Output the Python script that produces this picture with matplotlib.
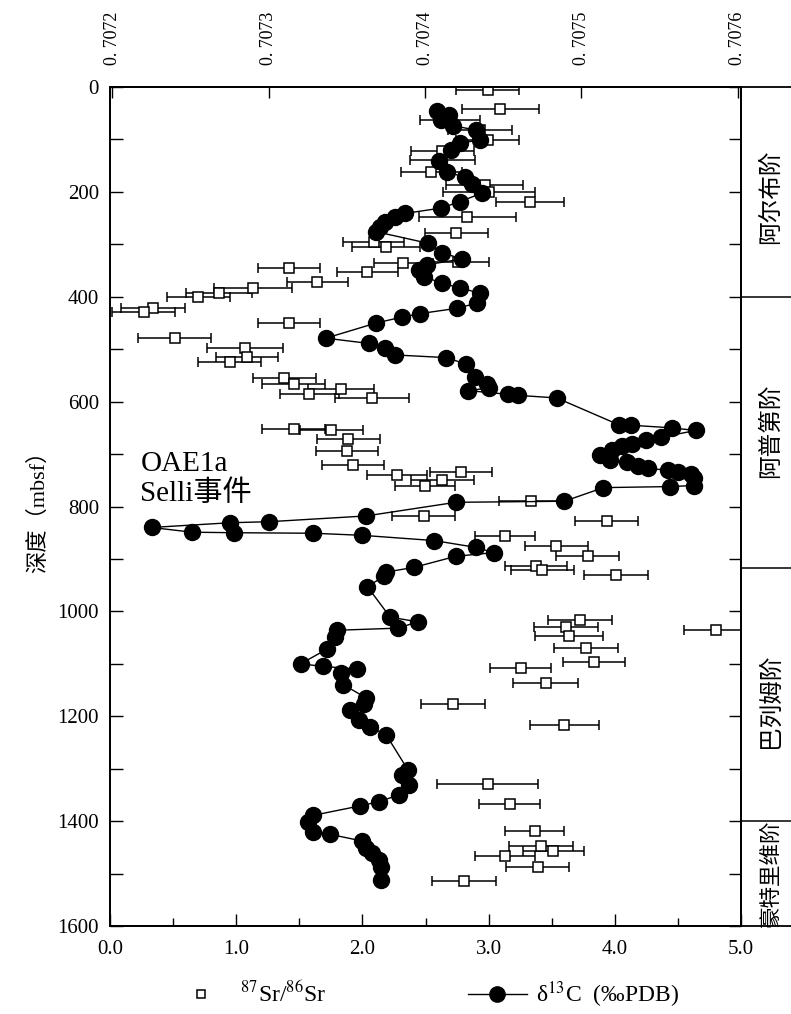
import numpy as np
import matplotlib
matplotlib.use('Agg')
import matplotlib.pyplot as plt
from matplotlib.ticker import MultipleLocator, FuncFormatter
from matplotlib.lines import Line2D

plt.rcParams['font.family'] = ['Liberation Serif', 'Noto Sans CJK SC', 'DejaVu Sans']
plt.rcParams['mathtext.fontset'] = 'stix'

# d13C (%o PDB) vs depth (mbsf)
c_depth = [46, 53, 63, 74, 82, 101, 107, 120, 141, 162, 172, 185, 202, 219, 231, 241, 248, 257,
           267, 276, 298, 316, 328, 339, 349, 362, 374, 383, 393, 412, 422, 432, 439, 450, 479,
           489, 498, 511, 516, 528, 553, 566, 574, 579, 586, 588, 593, 644, 645, 650, 655, 668,
           673, 680, 685, 692, 702, 712, 716, 722, 727, 731, 735, 738, 746, 760, 762, 764, 790,
           792, 818, 829, 831, 840, 849, 850, 851, 855, 865, 878, 888, 895, 916, 925, 933, 953,
           1011, 1020, 1032, 1036, 1048, 1072, 1100, 1105, 1110, 1117, 1140, 1165, 1177, 1188,
           1207, 1220, 1236, 1302, 1312, 1331, 1350, 1363, 1371, 1389, 1402, 1420, 1425, 1438,
           1451, 1461, 1474, 1487, 1512]
c_val = [2.59, 2.69, 2.62, 2.72, 2.90, 2.93, 2.77, 2.70, 2.61, 2.67, 2.81, 2.87, 2.95, 2.77, 2.62,
         2.34, 2.26, 2.18, 2.14, 2.11, 2.52, 2.63, 2.79, 2.51, 2.45, 2.49, 2.63, 2.77, 2.93, 2.91,
         2.75, 2.46, 2.31, 2.11, 1.71, 2.05, 2.18, 2.26, 2.66, 2.82, 2.89, 2.99, 3.00, 2.84, 3.15,
         3.23, 3.54, 4.03, 4.13, 4.45, 4.64, 4.37, 4.25, 4.14, 4.06, 3.98, 3.88, 3.96, 4.10, 4.18,
         4.26, 4.42, 4.50, 4.60, 4.63, 4.63, 4.44, 3.91, 3.60, 2.74, 2.03, 1.26, 0.95, 0.33, 0.65,
         0.98, 1.61, 2.00, 2.57, 2.90, 3.04, 2.74, 2.41, 2.19, 2.17, 2.04, 2.22, 2.44, 2.28, 1.80,
         1.78, 1.72, 1.51, 1.69, 1.96, 1.83, 1.85, 2.03, 2.01, 1.90, 1.97, 2.06, 2.19, 2.36, 2.31,
         2.37, 2.29, 2.13, 1.98, 1.61, 1.57, 1.61, 1.74, 2.00, 2.03, 2.08, 2.13, 2.15, 2.15]

# 87Sr/86Sr with 2-sigma error
sr_depth = [5, 42, 63, 82, 101, 122, 140, 162, 187, 200, 219, 248, 278, 296, 305, 334, 336, 345,
            353, 372, 383, 392, 401, 421, 430, 450, 479, 498, 515, 524, 555, 566, 576, 585, 593,
            652, 655, 672, 694, 721, 734, 740, 749, 761, 789, 818, 827, 856, 875, 894, 913, 921,
            930, 1016, 1029, 1035, 1047, 1069, 1097, 1108, 1137, 1177, 1217, 1329, 1368, 1419,
            1447, 1457, 1466, 1487, 1514]
sr_val = [0.707440, 0.707448, 0.707416, 0.707435, 0.707440, 0.707411, 0.707411, 0.707404,
          0.707438, 0.707441, 0.707467, 0.707427, 0.707420, 0.707367, 0.707375, 0.707421,
          0.707386, 0.707313, 0.707363, 0.707331, 0.707290, 0.707268, 0.707255, 0.707226,
          0.707220, 0.707313, 0.707240, 0.707285, 0.707286, 0.707275, 0.707310, 0.707316,
          0.707346, 0.707326, 0.707366, 0.707316, 0.707340, 0.707351, 0.707350, 0.707354,
          0.707423, 0.707382, 0.707411, 0.707400, 0.707468, 0.707399, 0.707516, 0.707451,
          0.707484, 0.707504, 0.707471, 0.707475, 0.707522, 0.707499, 0.707490, 0.707586,
          0.707492, 0.707503, 0.707508, 0.707461, 0.707477, 0.707418, 0.707489, 0.707440,
          0.707454, 0.707470, 0.707474, 0.707482, 0.707451, 0.707472, 0.707425]
sr_err = [0.0000203, 0.0000247, 0.0000193, 0.0000203, 0.0000203, 0.0000200, 0.0000209, 0.0000196,
          0.0000247, 0.0000294, 0.0000218, 0.0000310, 0.0000203, 0.0000196, 0.0000218, 0.0000200,
          0.0000190, 0.0000200, 0.0000196, 0.0000196, 0.0000250, 0.0000210, 0.0000200, 0.0000206,
          0.0000200, 0.0000200, 0.0000234, 0.0000244, 0.0000200, 0.0000200, 0.0000200, 0.0000200,
          0.0000212, 0.0000190, 0.0000237, 0.0000200, 0.0000200, 0.0000200, 0.0000200, 0.0000200,
          0.0000200, 0.0000190, 0.0000200, 0.0000193, 0.0000206, 0.0000200, 0.0000200, 0.0000193,
          0.0000200, 0.0000200, 0.0000200, 0.0000200, 0.0000206, 0.0000203, 0.0000206, 0.0000203,
          0.0000215, 0.0000203, 0.0000200, 0.0000196, 0.0000209, 0.0000206, 0.0000222, 0.0000323,
          0.0000196, 0.0000190, 0.0000203, 0.0000193, 0.0000190, 0.0000203, 0.0000203]

stage_names = ['阿尔布阶', '阿普第阶', '巴列姆阶', '豪特里维阶']
stage_bounds = [0, 400, 917, 1400, 1600]

W, H = 791, 1014
fig = plt.figure(figsize=(W / 100, H / 100), dpi=100)
left, right, top, bot = 110, 741, 87, 926
ax = fig.add_axes([left / W, 1 - bot / H, (right - left) / W, (bot - top) / H])
ax2 = ax.twiny()
ax.set_zorder(2)
ax.patch.set_visible(False)
ax2.set_zorder(1)

# Sr isotopes (top axis)
ax2.errorbar(sr_val, sr_depth, xerr=sr_err, fmt='s', color='black', mfc='white', mec='black',
             ms=6.5, mew=1.1, elinewidth=1.1, capsize=3.5, capthick=1.1)
ax2.set_xlim(0.7071985, 0.707602)
ax2.xaxis.set_major_locator(MultipleLocator(0.0001))
ax2.xaxis.set_major_formatter(FuncFormatter(lambda v, p: '0. ' + f'{v:.4f}'[2:]))
ax2.tick_params(axis='x', direction='in', length=8, width=1, labelsize=13, labelrotation=90, pad=16)

# d13C (bottom axis)
ax.plot(c_val, c_depth, '-o', color='black', lw=1.0, ms=11.5, mfc='black', mec='black')
ax.set_xlim(0, 5)
ax.set_ylim(1600, 0)
ax2.set_ylim(1600, 0)
ax.xaxis.set_major_locator(MultipleLocator(1))
ax.xaxis.set_minor_locator(MultipleLocator(0.5))
ax.xaxis.set_major_formatter(FuncFormatter(lambda v, p: f'{v:.1f}'))
ax.yaxis.set_major_locator(MultipleLocator(200))
ax.yaxis.set_minor_locator(MultipleLocator(100))
ax.tick_params(axis='both', which='both', direction='in', labelsize=15, width=1)
ax.tick_params(axis='x', which='major', length=9, top=False, pad=10)
ax.tick_params(axis='x', which='minor', length=6, top=False)
ax.tick_params(axis='y', which='both', length=9, right=True, pad=8)
ax.set_ylabel('深度（mbsf）', fontsize=16, labelpad=6)
for s in ax.spines.values():
    s.set_linewidth(1.3)
for s in ax2.spines.values():
    s.set_linewidth(1.3)

ax.text(0.24, 695, 'OAE1a\nSelli事件', fontsize=21, va='top', ha='left', linespacing=1.15)

# stage column
sax = fig.add_axes([right / W, 1 - bot / H, (W - right) / W, (bot - top) / H])
sax.set_ylim(1600, 0)
sax.set_xlim(0, 1)
sax.set_xticks([])
sax.set_yticks([])
sax.spines['right'].set_visible(False)
for s in ['left', 'top', 'bottom']:
    sax.spines[s].set_linewidth(1.3)
for b in stage_bounds[1:-1]:
    sax.axhline(b, color='black', lw=1.1)
stage_mid = [210, 655, 1170, 1500]
stage_fs = [17, 17, 17, 15.5]
for name, mid, fs in zip(stage_names, stage_mid, stage_fs):
    sax.text(0.6, mid, name, rotation=90, ha='center', va='center', fontsize=fs)

# legend
h1 = Line2D([], [], marker='s', ls='none', color='black', mfc='white', ms=6, mew=1.1)
h2 = Line2D([], [], marker='o', ls='-', color='black', lw=1.0, ms=11)
fig.legend([h1, h2], [r'$^{87}$Sr/$^{86}$Sr', r'δ$^{13}$C  (‰PDB)'], loc='center left',
           bbox_to_anchor=(150 / W, 0.019), ncol=2, frameon=False, fontsize=17,
           handlelength=2.5, columnspacing=6.0, handletextpad=0.4)

fig.savefig('out.png', dpi=100)
